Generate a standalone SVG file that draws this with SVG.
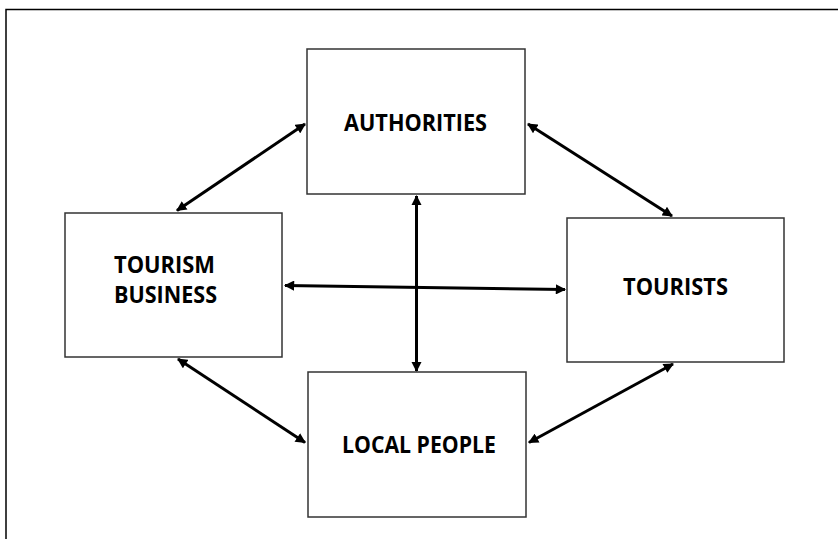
<svg xmlns="http://www.w3.org/2000/svg" width="838" height="539" viewBox="0 0 838 539">
  <style>
    .box { fill: #ffffff; stroke: #333333; stroke-width: 1.5; }
    .label { font-family: "Open Sans", "Liberation Sans", sans-serif; font-weight: bold; font-size: 23px; fill: #000000; }
    .link { stroke: #000000; stroke-width: 3; fill: none; marker-start: url(#head); marker-end: url(#head); }
  </style>
  <defs>
    <marker id="head" viewBox="0 0 10 10" refX="9" refY="5" markerWidth="3.6" markerHeight="3.4" markerUnits="strokeWidth" orient="auto-start-reverse">
      <path d="M0,0 L10,5 L0,10 Z" fill="#000000"/>
    </marker>
  </defs>
  <rect x="0" y="0" width="838" height="539" fill="#ffffff"/>
  <!-- outer frame -->
  <rect x="6" y="9.5" width="840" height="540" fill="none" stroke="#000000" stroke-width="1.5"/>

  <g id="connectors">
    <line class="link" x1="305" y1="124" x2="177" y2="210.5"/>
    <line class="link" x1="528" y1="124" x2="672" y2="216"/>
    <line class="link" x1="416.5" y1="196" x2="416.5" y2="371"/>
    <line class="link" x1="285" y1="285.5" x2="565" y2="289.5"/>
    <line class="link" x1="178" y1="359" x2="305" y2="442.5"/>
    <line class="link" x1="673" y1="364" x2="529" y2="442.5"/>
  </g>

  <g id="authorities">
    <rect class="box" x="307" y="49" width="218" height="145"/>
    <text class="label" x="344" y="131" textLength="143" lengthAdjust="spacingAndGlyphs">AUTHORITIES</text>
  </g>
  <g id="tourism-business">
    <rect class="box" x="65" y="213" width="217" height="144"/>
    <text class="label" x="114" y="273" textLength="101" lengthAdjust="spacingAndGlyphs">TOURISM</text>
    <text class="label" x="114" y="303" textLength="103" lengthAdjust="spacingAndGlyphs">BUSINESS</text>
  </g>
  <g id="tourists">
    <rect class="box" x="567" y="218" width="217" height="144"/>
    <text class="label" x="623" y="295" textLength="105" lengthAdjust="spacingAndGlyphs">TOURISTS</text>
  </g>
  <g id="local-people">
    <rect class="box" x="308" y="372" width="218" height="145"/>
    <text class="label" x="342" y="453" textLength="154" lengthAdjust="spacingAndGlyphs">LOCAL PEOPLE</text>
  </g>
</svg>
